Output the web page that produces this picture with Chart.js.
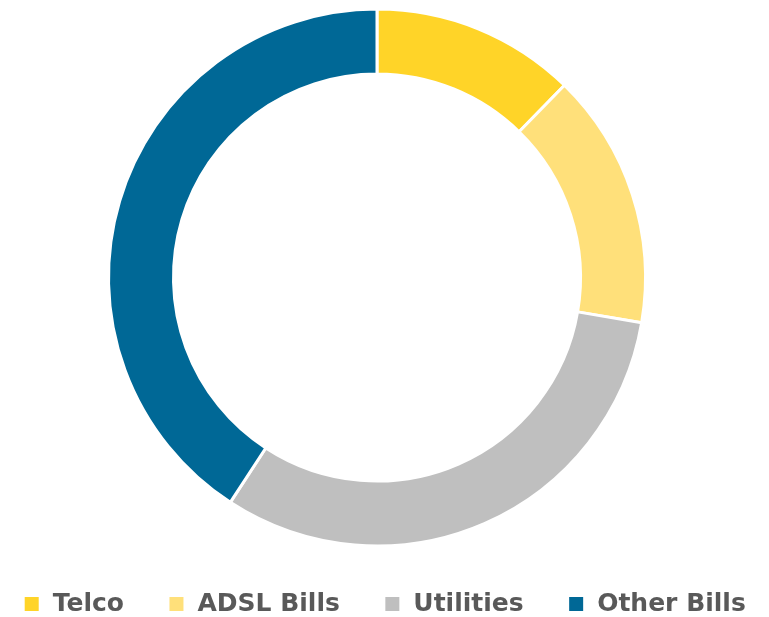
<!DOCTYPE html>
<html>
<head>
<meta charset="utf-8">
<script src="https://cdn.jsdelivr.net/npm/chart.js@4"></script>
<style>
  body { margin: 0; background: #fff; }
</style>
</head>
<body>
<canvas id="billsChart" width="769" height="617"></canvas>
<script>
const categories = ['Telco', 'ADSL Bills', 'Utilities', 'Other Bills'];
const shares = [12.3, 15.4, 31.5, 40.8];
const sliceColors = ['#FFD428', '#FFE07A', '#BFBFBF', '#006896'];

// ring sits a bit left of centre; the legend keeps its wide gaps on one row,
// centred on the whole canvas
const legendRow = {
    id: 'legendRow',
    beforeLayout(chart) {
        const legend = chart.legend;
        if (legend && !legend._oneRow) {
            const fit = legend.fit;
            legend.fit = function () {
                this.maxWidth = chart.width + 200;
                fit.call(this);
            };
            legend._oneRow = true;
        }
    },
    afterLayout(chart) {
        chart.legend.left = -40;
        chart.legend.right = chart.width + 40;
        chart.legend.width = chart.width + 80;
    }
};

const ctx = document.getElementById('billsChart').getContext('2d');
const billsChart = new Chart(ctx, {
    type: 'doughnut',
    data: {
        labels: categories,
        datasets: [{
            data: shares,
            backgroundColor: sliceColors,
            borderColor: '#ffffff',
            borderWidth: 3
        }]
    },
    options: {
        responsive: false,
        animation: false,
        cutout: '75.8%',
        layout: {
            padding: { top: 7.5, left: 0, right: 15, bottom: -9.5 }
        },
        plugins: {
            legend: {
                position: 'bottom',
                labels: {
                    // white slice border eats 1.5px each side -> 14px swatch
                    boxWidth: 17,
                    boxHeight: 17,
                    padding: 44,
                    color: '#595959',
                    font: { family: 'DejaVu Sans', size: 25, weight: 'bold' }
                }
            },
            tooltip: { enabled: false }
        }
    },
    plugins: [legendRow]
});
</script>
</body>
</html>
